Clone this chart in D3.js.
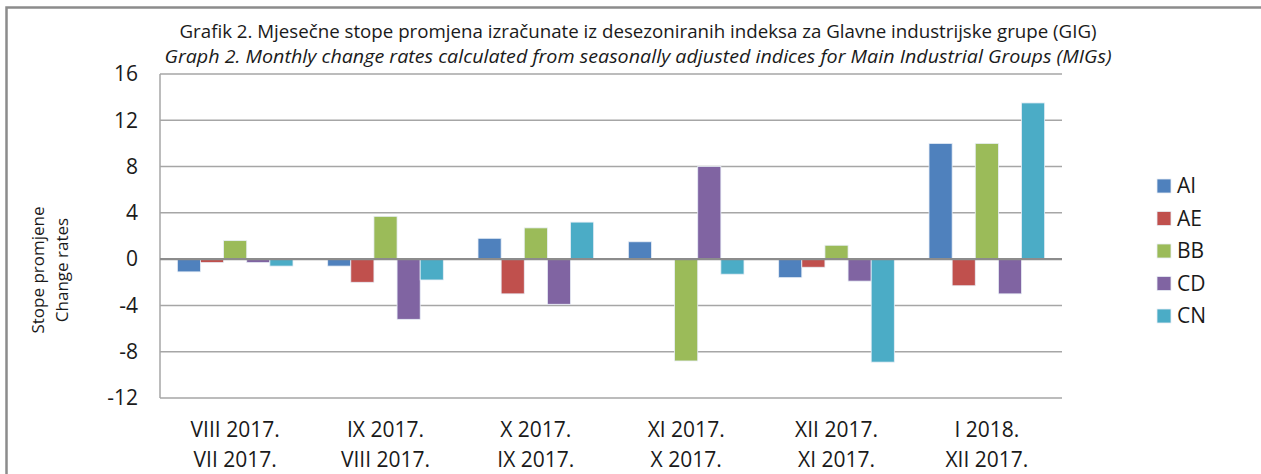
<!DOCTYPE html>
<meta charset="utf-8">
<script src="https://d3js.org/d3.v7.min.js"></script>
<style>
  body { margin: 0; background: #fff; }
  svg text { font-family: "Open Sans", sans-serif; fill: #1a1a1a; }
</style>
<body>
<div id="chart"></div>
<script>
// data
var periodsTop = ["VIII 2017.", "IX 2017.", "X 2017.", "XI 2017.", "XII 2017.", "I 2018."];
var periodsBottom = ["VII 2017.", "VIII 2017.", "IX 2017.", "X 2017.", "XI 2017.", "XII 2017."];
var groups = ["AI", "AE", "BB", "CD", "CN"];
var AI = [-1.1, -0.6, 1.8, 1.5, -1.6, 10.0];
var AE = [-0.3, -2.0, -3.0, 0.0, -0.7, -2.3];
var BB = [1.6, 3.7, 2.7, -8.8, 1.2, 10.0];
var CD = [-0.3, -5.2, -3.9, 8.0, -1.9, -3.0];
var CN = [-0.6, -1.8, 3.2, -1.3, -8.9, 13.5];
var yTicks = [-12, -8, -4, 0, 4, 8, 12, 16];
var colors = ["#4F81BD", "#C0504D", "#9BBB59", "#8064A2", "#4BACC6"];

var seriesValues = [AI, AE, BB, CD, CN];

var W = 1261, H = 474;
var margin = {top: 74, left: 160, right: 199, bottom: 76};
var width = W - margin.left - margin.right,
    height = H - margin.top - margin.bottom;

var svg = d3.select("#chart").append("svg")
  .attr("width", W).attr("height", H);

// outer frame
svg.append("rect")
  .attr("x", 6.5).attr("y", 7.5)
  .attr("width", W + 20).attr("height", H + 20)
  .attr("fill", "none").attr("stroke", "#8c8c8c").attr("stroke-width", 2.5);

// titles
svg.append("text")
  .attr("x", 638).attr("y", 38)
  .attr("text-anchor", "middle")
  .attr("textLength", 917)
  .attr("lengthAdjust", "spacingAndGlyphs")
  .style("font-size", "18px")
  .text("Grafik 2. Mjesečne stope promjena izračunate iz desezoniranih indeksa za Glavne industrijske grupe (GIG)");
svg.append("text")
  .attr("x", 638).attr("y", 63)
  .attr("text-anchor", "middle")
  .attr("textLength", 947)
  .attr("lengthAdjust", "spacingAndGlyphs")
  .style("font-size", "18px")
  .style("font-style", "italic")
  .text("Graph 2. Monthly change rates calculated from seasonally adjusted indices for Main Industrial Groups (MIGs)");

var g = svg.append("g")
  .attr("transform", "translate(" + margin.left + "," + margin.top + ")");

var x0 = d3.scaleBand()
  .domain(d3.range(periodsTop.length))
  .range([0, width]);

// Excel style: gap width 150% of a bar
var barW = x0.bandwidth() / (groups.length + 1.5);
var x1 = d3.scaleBand()
  .domain(groups)
  .range([barW * 0.75, barW * 0.75 + barW * groups.length]);

var y = d3.scaleLinear()
  .domain([-12, 16])
  .range([height, 0]);

// gridlines
g.append("g")
  .selectAll("line")
  .data(yTicks)
  .enter().append("line")
    .attr("x1", 0).attr("x2", width)
    .attr("y1", function(d) { return y(d); })
    .attr("y2", function(d) { return y(d); })
    .attr("stroke", "#a6a6a6")
    .attr("stroke-width", 1.5);

// left axis line
g.append("line")
  .attr("x1", 0).attr("x2", 0)
  .attr("y1", 0).attr("y2", height)
  .attr("stroke", "#a6a6a6").attr("stroke-width", 1.5);

// y axis labels (plain hyphen for negatives, like the original)
var yAxis = g.append("g")
  .call(d3.axisLeft(y).tickValues(yTicks).tickSize(0).tickPadding(22)
    .tickFormat(function(d) { return String(d); }));
yAxis.select(".domain").remove();
yAxis.selectAll("text")
  .style("font-size", "21px")
  .style("font-family", "Open Sans, sans-serif")
  .attr("fill", "#1a1a1a");

// bars
var groupG = g.selectAll(".grp")
  .data(d3.range(periodsTop.length))
  .enter().append("g")
    .attr("transform", function(i) { return "translate(" + x0(i) + ",0)"; });

groupG.selectAll("rect")
  .data(function(i) {
    return groups.map(function(k, j) { return {key: k, j: j, value: seriesValues[j][i]}; });
  })
  .enter().append("rect")
    .attr("x", function(d) { return x1(d.key); })
    .attr("width", x1.bandwidth())
    .attr("y", function(d) { return y(Math.max(0, d.value)); })
    .attr("height", function(d) { return Math.abs(y(d.value) - y(0)); })
    .attr("fill", function(d) { return colors[d.j]; })
    .attr("stroke", "#e8eef6")
    .attr("stroke-width", 0.8);

// zero line on top
g.append("line")
  .attr("x1", 0).attr("x2", width)
  .attr("y1", y(0)).attr("y2", y(0))
  .attr("stroke", "#8c8c8c").attr("stroke-width", 2.2);

// x labels, two lines
var xl = g.append("g");
xl.selectAll(".t1")
  .data(periodsTop)
  .enter().append("text")
    .attr("x", function(d, i) { return x0(i) + x0.bandwidth() / 2; })
    .attr("y", height + 39)
    .attr("text-anchor", "middle")
    .style("font-size", "21px")
    .text(function(d) { return d; });
xl.selectAll(".t2")
  .data(periodsBottom)
  .enter().append("text")
    .attr("x", function(d, i) { return x0(i) + x0.bandwidth() / 2; })
    .attr("y", height + 69)
    .attr("text-anchor", "middle")
    .style("font-size", "21px")
    .text(function(d) { return d; });

// y axis title
var yt = svg.append("text")
  .attr("transform", "translate(44,270)rotate(-90)")
  .attr("text-anchor", "middle")
  .style("font-size", "17px");
yt.append("tspan").attr("x", 0).attr("dy", 0).text("Stope promjene");
yt.append("tspan").attr("x", 0).attr("dy", 24).text("Change rates");

// legend
var lg = svg.append("g").attr("transform", "translate(1157,179)");
var item = lg.selectAll("g")
  .data(groups)
  .enter().append("g")
    .attr("transform", function(d, i) { return "translate(0," + (i * 32.5) + ")"; });
item.append("rect")
  .attr("width", 14).attr("height", 14)
  .attr("fill", function(d, i) { return colors[i]; })
  .attr("stroke", "#e8eef6").attr("stroke-width", 0.8);
item.append("text")
  .attr("x", 20).attr("y", 14)
  .style("font-size", "21px")
  .text(function(d) { return d; });
</script>
</body>
